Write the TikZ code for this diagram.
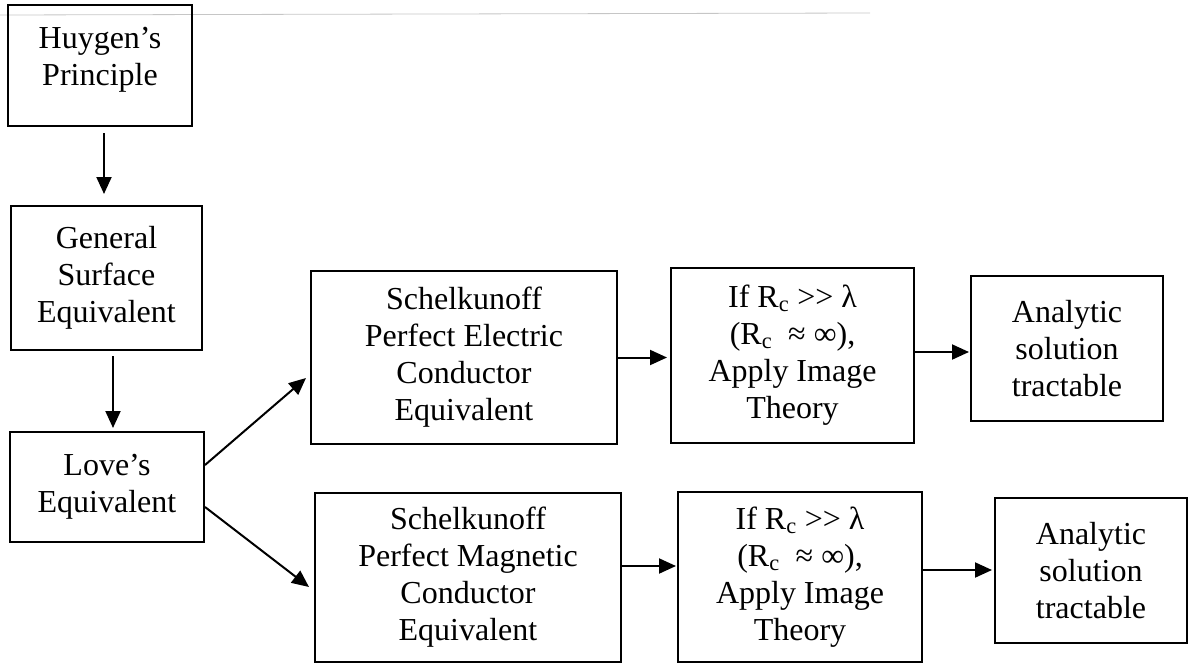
\documentclass[tikz,border=0pt]{standalone}
\usepackage{fontspec}
\setmainfont{Liberation Serif}
\usetikzlibrary{arrows.meta}
\begin{document}
\begin{tikzpicture}[x=1pt,y=-1pt,
  box/.style={draw, line width=2pt, inner sep=0pt, align=center,
    font=\fontsize{32}{37}\selectfont},
  conn/.style={line width=2pt, -{Triangle[length=17pt,width=15pt]}}]
\useasboundingbox (0,0) rectangle (1189,664);
\draw[gray!45, line width=0.8pt] (0,15) -- (870,13);
% boxes
\node[box, minimum width=184pt, minimum height=121pt] (huy) at (100,65.5) {};
\node[font=\fontsize{32}{37}\selectfont, align=center, anchor=north, inner sep=0pt] (huyt) at (100,27) {Huygen’s\\Principle};
\node[box, minimum width=191pt, minimum height=144pt] (gse) at (106.5,278) {General\\Surface\\Equivalent};
\node[box, minimum width=194pt, minimum height=110pt] (love) at (107,487) {Love’s\\Equivalent};
\node[box, minimum width=306pt, minimum height=173pt] (pec) at (464,357.5) {Schelkunoff\\Perfect Electric\\Conductor\\Equivalent};
\node[box, minimum width=243pt, minimum height=175pt] (imga) at (792.5,355.5) {If R\textsubscript{c} >{}> λ\\(R\textsubscript{c} \ ≈ ∞),\\Apply Image\\Theory};
\node[box, minimum width=192pt, minimum height=145pt] (ana) at (1067,348.5) {Analytic\\solution\\tractable};
\node[box, minimum width=306pt, minimum height=169pt] (pmc) at (468,577.5) {Schelkunoff\\Perfect Magnetic\\Conductor\\Equivalent};
\node[box, minimum width=244pt, minimum height=170pt] (imgb) at (800,577) {If R\textsubscript{c} >{}> λ\\(R\textsubscript{c} \ ≈ ∞),\\Apply Image\\Theory};
\node[box, minimum width=192pt, minimum height=145pt] (anb) at (1091,570.5) {Analytic\\solution\\tractable};
% connectors
\draw[conn, shorten <=6pt, shorten >=11pt] ([xshift=4pt]huy.south) -- ([xshift=-2.5pt]gse.north);
\draw[conn, shorten <=5pt, shorten >=3pt] ([xshift=6.5pt]gse.south) -- ([xshift=6pt]love.north);
\draw[conn] ([yshift=22pt]love.east) -- ([xshift=-4pt,yshift=-20.5pt]pec.west);
\draw[conn] ([yshift=-20pt]love.east) -- ([xshift=-5pt,yshift=-9.5pt]pmc.west);
\draw[conn, shorten >=3pt] (pec.east) -- (pec.east -| imga.west);
\draw[conn, shorten >=1pt] ([yshift=3.5pt]imga.east) -- ([yshift=3.5pt]imga.east -| ana.west);
\draw[conn, shorten >=1pt] ([yshift=11.5pt]pmc.east) -- ([yshift=11.5pt]pmc.east -| imgb.west);
\draw[conn, shorten >=2pt] ([yshift=7pt]imgb.east) -- ([yshift=7pt]imgb.east -| anb.west);
\end{tikzpicture}
\end{document}
